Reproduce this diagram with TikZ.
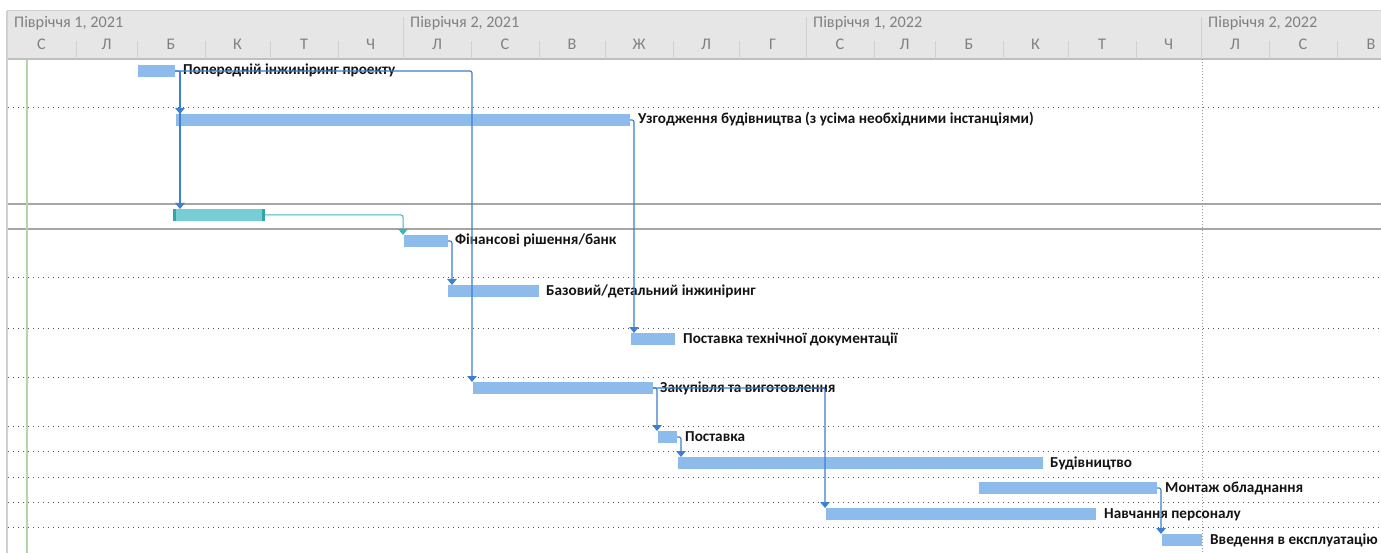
\documentclass[tikz,border=0pt]{standalone}
\usepackage{fontspec}
\setmainfont{Carlito}
\usetikzlibrary{arrows.meta,calc}
\definecolor{barblue}{HTML}{8DBBEB}
\definecolor{linkblue}{HTML}{3C7FD3}
\definecolor{tealbar}{HTML}{76CED4}
\definecolor{tealcap}{HTML}{2FA6AD}
\definecolor{teallink}{HTML}{3DB4BB}
\definecolor{hdrbg}{HTML}{E6E6E6}
\definecolor{hdrtext}{HTML}{808080}
\definecolor{hdrsep}{HTML}{D0D0D0}
\definecolor{gridgray}{HTML}{5A5A5A}
\definecolor{solidgray}{HTML}{A6A6A6}
\definecolor{greenline}{HTML}{B4D6A4}
\begin{document}
\begin{tikzpicture}[x=1pt,y=-1pt,
  gbar/.style={rectangle, fill=barblue, draw=none, minimum width=#1, minimum height=12pt, inner sep=0pt, outer sep=0pt, anchor=north west},
  tbar/.style={rectangle, fill=tealbar, draw=none, minimum width=#1, minimum height=12pt, inner sep=0pt, outer sep=0pt, anchor=north west},
  lbl/.style={anchor=west, inner sep=0pt, text height=10.5pt, text depth=2.5pt, font=\bfseries\fontsize{15.2}{17}\selectfont, text=black!92},
  hdr/.style={inner sep=0pt, text height=11pt, text depth=3pt, text=hdrtext, font=\fontsize{16.2}{18}\selectfont},
  hsep/.style={draw=hdrsep, line width=1pt},
  dotgrid/.style={draw=gridgray, line width=1pt, dash pattern=on 1.2pt off 3.8pt},
  solidgrid/.style={draw=solidgray, line width=1.5pt},
  conn/.style={draw=linkblue, line width=1.2pt, rounded corners=2pt, -{Triangle[width=9.5pt,length=6pt]}},
  tconn/.style={draw=teallink, line width=1pt, rounded corners=2pt, -{Triangle[width=9.5pt,length=6pt]}}
]
\useasboundingbox (0,0) rectangle (1381,553);
\fill[white] (0,0) rectangle (1381,553);
% header
\fill[hdrbg] (7,11) rectangle (1381,59);
\draw[hsep] (7,11) -- (1381,11);
\draw[draw=black!25, line width=1.2pt] (7,59) -- (1381,59);
\foreach \x in {403,806,1201} \draw[hsep] (\x,17) -- (\x,59);
\foreach \x in {76,137,205,270,338,471,539,605,673,739,874,935,1003,1068,1136,1269,1337}
  \draw[hsep] (\x,41) -- (\x,59);
\node[hdr, anchor=west] (h1) at (14,24) {Півріччя 1, 2021};
\node[hdr, anchor=west] (h2) at (410,24) {Півріччя 2, 2021};
\node[hdr, anchor=west] (h3) at (813,24) {Півріччя 1, 2022};
\node[hdr, anchor=west] (h4) at (1208,24) {Півріччя 2, 2022};
\foreach \x/\t [count=\i] in {41.5/С,106.5/Л,171/Б,237.5/К,304/Т,370.5/Ч,437/Л,505/С,572/В,639/Ж,706/Л,772.5/Г,840/С,904.5/Л,969/Б,1035.5/К,1102/Т,1168.5/Ч,1235/Л,1303/С,1371/В}
  \node[hdr] (m\i) at (\x,46) {\t};
% left border and grid
\draw[draw=hdrsep, line width=1.5pt] (7,11) -- (7,553);
\foreach \y in {108,278,328,377,426,451,477,502,527} \draw[dotgrid] (8,\y) -- (1381,\y);
\draw[solidgrid] (8,204) -- (1381,204);
\draw[solidgrid] (8,229) -- (1381,229);
\draw[draw=black!40, line width=0.8pt, dash pattern=on 1pt off 2pt] (1202,59) -- (1202,553);
\draw[draw=greenline, line width=1.5pt] (27,59) -- (27,553);
% bars
\node[gbar=37] (b1) at (138,65) {};
\node[gbar=454] (b2) at (176,114) {};
\node[tbar=92] (b3) at (173,209) {};
\fill[tealcap] (b3.north west) rectangle ([xshift=3]b3.south west);
\fill[tealcap] ([xshift=-3]b3.north east) rectangle (b3.south east);
\node[gbar=44] (b4) at (404,235) {};
\node[gbar=91] (b5) at (448,285) {};
\node[gbar=44] (b6) at (631,333) {};
\node[gbar=180] (b7) at (473,382) {};
\node[gbar=19] (b8) at (658,431) {};
\node[gbar=365] (b9) at (678,457) {};
\node[gbar=178] (b10) at (979,482) {};
\node[gbar=270] (b11) at (826,508) {};
\node[gbar=40] (b12) at (1162,534) {};
% labels
\node[lbl] (l1) at ([xshift=8]b1.east) {Попередній інжиніринг проекту};
\node[lbl] (l2) at ([xshift=8]b2.east) {Узгодження будівництва (з усіма необхідними інстанціями)};
\node[lbl] (l4) at ([xshift=7]b4.east) {Фінансові рішення/банк};
\node[lbl] (l5) at ([xshift=7]b5.east) {Базовий/детальний інжиніринг};
\node[lbl] (l6) at ([xshift=8]b6.east) {Поставка технічної документації};
\node[lbl] (l7) at ([xshift=7]b7.east) {Закупівля та виготовлення};
\node[lbl] (l8) at ([xshift=8]b8.east) {Поставка};
\node[lbl] (l9) at ([xshift=7]b9.east) {Будівництво};
\node[lbl] (l10) at ([xshift=8]b10.east) {Монтаж обладнання};
\node[lbl] (l11) at ([xshift=8]b11.east) {Навчання персоналу};
\node[lbl] (l12) at ([xshift=8]b12.east) {Введення в експлуатацію};
% connectors
\draw[conn] (b1.east) -| ([xshift=-1]b7.north west);
\draw[conn] (b1.east) -- ++(5,0) coordinate (k1) -- (k1 |- b2.north);
\draw[conn] (k1) -- (k1 |- b3.north);
\draw[conn] (b2.east) -- ++(4,0) coordinate (k2) -- (k2 |- b6.north);
\draw[tconn] (b3.east) -| ([xshift=-1]b4.north west);
\draw[conn] (b4.east) -- ++(4,0) coordinate (k4) -- (k4 |- b5.north);
\draw[conn] (b7.east) -- ++(4,0) coordinate (k7) -- (k7 |- b8.north);
\draw[conn] (b7.east) -| ([xshift=-1]b11.north west);
\draw[conn] (b8.east) -- ++(4,0) coordinate (k8) -- (k8 |- b9.north);
\draw[conn] (b10.east) -- ++(4,0) coordinate (k10) -- (k10 |- b12.north);
\end{tikzpicture}
\end{document}
